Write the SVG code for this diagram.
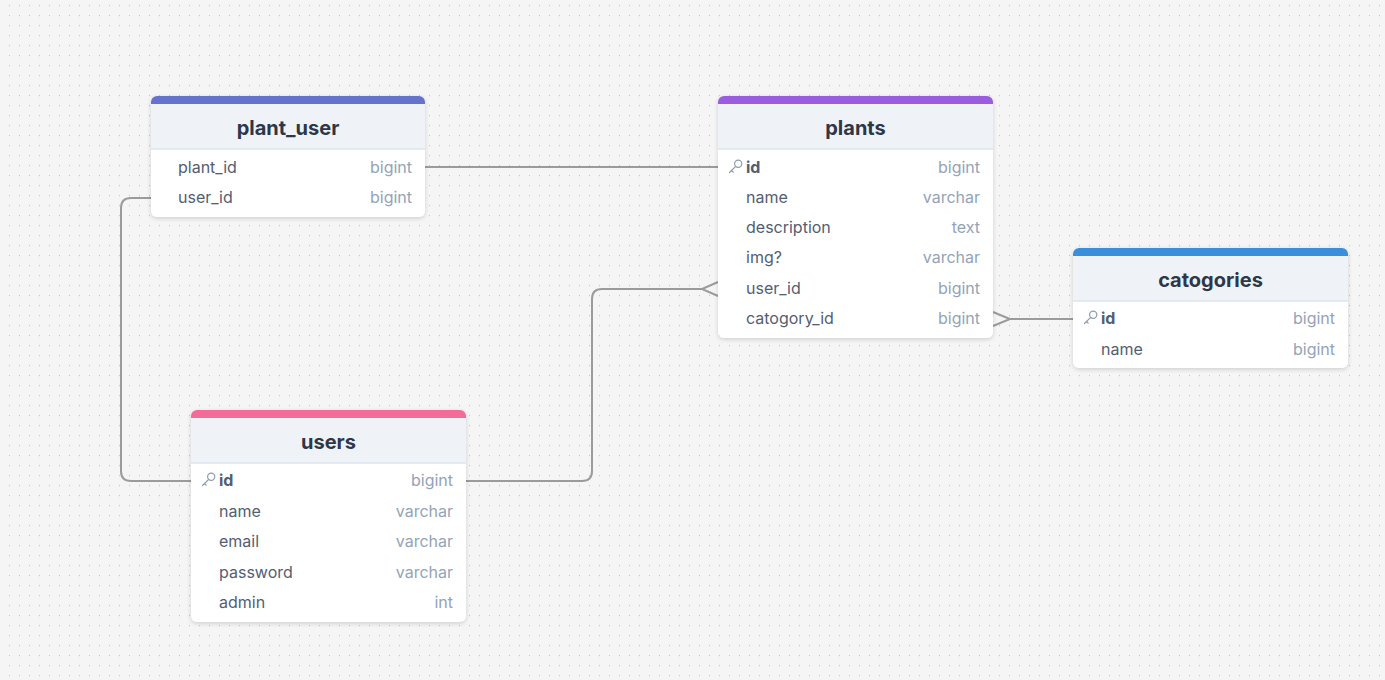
<svg xmlns="http://www.w3.org/2000/svg" width="1385" height="680" viewBox="0 0 1385 680">
<defs>
<pattern id="dots" patternUnits="userSpaceOnUse" x="0" y="0" width="10" height="10">
<rect x="9" y="5" width="1.2" height="1.2" fill="#c6c6c6"/>
</pattern>
<filter id="sh" x="-10%" y="-10%" width="120%" height="130%">
<feDropShadow dx="0" dy="1.5" stdDeviation="2" flood-color="#000" flood-opacity="0.16"/>
</filter>
<g id="key">
<circle cx="3.2" cy="-3.2" r="3.6" fill="none" stroke="#8e9bb0" stroke-width="1.2"/>
<path d="M0.7,-0.7 L-5.5,5.5 M-3.5,3.5 L-1.8,5.2" fill="none" stroke="#8e9bb0" stroke-width="1.2" stroke-linecap="round"/>
</g>
</defs>
<style>
.body{fill:#ffffff;filter:url(#sh)}
.hdr{fill:#eff3f8}
.sep{stroke:#dde4ee;stroke-width:1.5}
.title{font-family:Inter,"Liberation Sans",sans-serif;font-size:20px;font-weight:700;fill:#2d3748;text-anchor:middle;dominant-baseline:central}
.f{font-family:Inter,"Liberation Sans",sans-serif;font-size:16px;fill:#525e72;dominant-baseline:central}
.pk{font-weight:700}
.t{font-family:Inter,"Liberation Sans",sans-serif;font-size:16px;fill:#94a3b8;text-anchor:end;dominant-baseline:central}
.c{fill:none;stroke:#9b9b9b;stroke-width:2}
</style>
<rect width="1385" height="680" fill="#f5f5f5"/>
<rect width="1385" height="680" fill="url(#dots)"/>

<g id="connectors">
<path class="c" d="M425,167 H718"/>
<path class="c" d="M151,198 H131 Q121,198 121,208 V471 Q121,481 131,481 H191"/>
<path class="c" d="M466,481 H582 Q592,481 592,471 V299 Q592,289 602,289 H702"/>
<path class="c" d="M718,282 L702,289 L718,296"/>
<path class="c" d="M1010,319 H1073"/>
<path class="c" d="M993,312 L1010,319 L993,326"/>
</g>

<g id="plant_user">
<rect class="body" x="151" y="96" width="274" height="121" rx="6"/>
<path d="M151,104 V102 a6,6 0 0 1 6,-6 H419 a6,6 0 0 1 6,6 V104 Z" fill="#6673cd"/>
<rect class="hdr" x="151" y="104" width="274" height="45"/>
<line class="sep" x1="151" y1="149" x2="425" y2="149"/>
<text class="title" x="288" y="128">plant_user</text>
<text class="f" x="178" y="167">plant_id</text><text class="t" x="412" y="167">bigint</text>
<text class="f" x="178" y="197">user_id</text><text class="t" x="412" y="197">bigint</text>
</g>

<g id="plants">
<rect class="body" x="718" y="96" width="275" height="242" rx="6"/>
<path d="M718,104 V102 a6,6 0 0 1 6,-6 H987 a6,6 0 0 1 6,6 V104 Z" fill="#9a5de0"/>
<rect class="hdr" x="718" y="104" width="275" height="45"/>
<line class="sep" x1="718" y1="149" x2="993" y2="149"/>
<text class="title" x="855.5" y="128">plants</text>
<use href="#key" x="735" y="167"/>
<text class="f pk" x="746" y="167">id</text><text class="t" x="980" y="167">bigint</text>
<text class="f" x="746" y="197">name</text><text class="t" x="980" y="197">varchar</text>
<text class="f" x="746" y="227">description</text><text class="t" x="980" y="227">text</text>
<text class="f" x="746" y="257">img?</text><text class="t" x="980" y="257">varchar</text>
<text class="f" x="746" y="288">user_id</text><text class="t" x="980" y="288">bigint</text>
<text class="f" x="746" y="318">catogory_id</text><text class="t" x="980" y="318">bigint</text>
</g>

<g id="catogories">
<rect class="body" x="1073" y="248" width="275" height="120" rx="6"/>
<path d="M1073,256 V254 a6,6 0 0 1 6,-6 H1342 a6,6 0 0 1 6,6 V256 Z" fill="#3a8fdc"/>
<rect class="hdr" x="1073" y="256" width="275" height="45"/>
<line class="sep" x1="1073" y1="301" x2="1348" y2="301"/>
<text class="title" x="1210.5" y="280">catogories</text>
<use href="#key" x="1090" y="318"/>
<text class="f pk" x="1101" y="318">id</text><text class="t" x="1335" y="318">bigint</text>
<text class="f" x="1101" y="349">name</text><text class="t" x="1335" y="349">bigint</text>
</g>

<g id="users">
<rect class="body" x="191" y="410" width="275" height="212" rx="6"/>
<path d="M191,418 V416 a6,6 0 0 1 6,-6 H460 a6,6 0 0 1 6,6 V418 Z" fill="#f36b99"/>
<rect class="hdr" x="191" y="418" width="275" height="45"/>
<line class="sep" x1="191" y1="463" x2="466" y2="463"/>
<text class="title" x="328.5" y="442">users</text>
<use href="#key" x="208" y="480"/>
<text class="f pk" x="219" y="480">id</text><text class="t" x="453" y="480">bigint</text>
<text class="f" x="219" y="511">name</text><text class="t" x="453" y="511">varchar</text>
<text class="f" x="219" y="541">email</text><text class="t" x="453" y="541">varchar</text>
<text class="f" x="219" y="572">password</text><text class="t" x="453" y="572">varchar</text>
<text class="f" x="219" y="602">admin</text><text class="t" x="453" y="602">int</text>
</g>
</svg>
